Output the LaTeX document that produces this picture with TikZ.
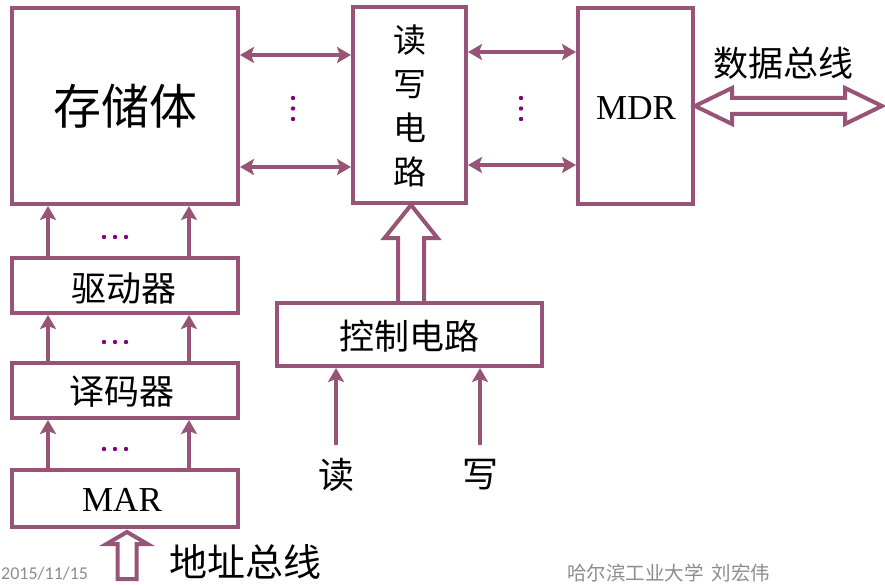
\documentclass[tikz,border=0pt]{standalone}
\usepackage{fontspec}
\setmainfont{Liberation Serif}
\newfontfamily\cjk{Noto Sans CJK SC}
\newfontfamily\footfont{Carlito}
\usetikzlibrary{arrows.meta,calc}
\definecolor{pc}{RGB}{152,84,118}
\definecolor{dotc}{RGB}{128,0,128}
\definecolor{footc}{RGB}{140,140,140}
\tikzset{
  box/.style={draw=pc, line width=4pt, fill=white, inner sep=0pt},
  arr/.style={draw=pc, line width=4pt, -{Stealth[length=14pt,width=16pt,inset=3pt]}},
  darr/.style={draw=pc, line width=4pt, {Stealth[length=14pt,width=16pt,inset=3pt]}-{Stealth[length=14pt,width=16pt,inset=3pt]}},
  hollow/.style={draw=pc, line width=4pt, line join=miter},
  cjkt/.style={font=\cjk\fontsize{35}{44}\selectfont, inner sep=0pt},
  rmt/.style={font=\fontsize{35}{40}\selectfont, inner sep=0pt},
  pdot/.style={fill=dotc, draw=none},
}
\begin{document}
\begin{tikzpicture}[x=1pt,y=-1pt]
\useasboundingbox (0,0) rectangle (885,585);
% boxes
\node[box, minimum width=226, minimum height=196] (store) at (125,106) {};
\node[cjkt, font=\cjk\fontsize{48}{50}\selectfont] (storet) at (125,106) {存储体};
\node[box, minimum width=113, minimum height=196] (rw) at (409.5,105) {};
\node[cjkt, font=\cjk\fontsize{33}{44}\selectfont, align=center] (rwt) at (409.5,106) {读\\写\\电\\路};
\node[box, minimum width=115, minimum height=196] (mdr) at (635.5,106) {};
\node[rmt] (mdrt) at (636,108) {MDR};
\node[box, minimum width=226, minimum height=55] (drv) at (125,285.5) {};
\node[cjkt] (drvt) at (124,288) {驱动器};
\node[box, minimum width=226, minimum height=55] (dec) at (125,390.5) {};
\node[cjkt] (dect) at (122,392) {译码器};
\node[box, minimum width=226, minimum height=57] (mar) at (125,498.5) {};
\node[rmt] (mart) at (122,500) {MAR};
\node[box, minimum width=265, minimum height=63] (ctl) at (409.5,334.5) {};
\node[cjkt] (ctlt) at (409,336) {控制电路};
% store <-> rw
\draw[darr] (store.east |- 0,55) -- (rw.west |- 0,55);
\draw[darr] (store.east |- 0,167) -- (rw.west |- 0,167);
\draw[darr] (rw.east |- 0,52) -- (mdr.west |- 0,52);
\draw[darr] (rw.east |- 0,165) -- (mdr.west |- 0,165);
% vertical dots
\foreach \yy in {98,108.5,119}{
  \fill[pdot] (293,\yy) circle (2.2);
  \fill[pdot] (521,\yy) circle (2.2);
}
% left column arrows
\foreach \xx in {48,189}{
  \draw[arr] (drv.north -| \xx,0) -- (store.south -| \xx,0);
  \draw[arr] (dec.north -| \xx,0) -- (drv.south -| \xx,0);
  \draw[arr] (mar.north -| \xx,0) -- (dec.south -| \xx,0);
}
\foreach \yy in {237,342,449}{
  \foreach \xx in {104,115,126}{
    \fill[pdot] (\xx,\yy) circle (2.2);
  }
}
% data bus
\coordinate (db) at (mdr.east);
\draw[hollow] (db) -- ++(37,-18) -- ++(0,10) -- ++(113,0) -- ++(0,-10) -- ++(37,18) -- ++(-37,18) -- ++(0,-10) -- ++(-113,0) -- ++(0,10) -- cycle;
\node[cjkt] (dbt) at (783,63) {数据总线};
% address bus
\coordinate (ab) at ($(mar.south)+(2,3)$);
\draw[hollow] (ab) -- ++(20.5,12) -- ++(-11,0) -- ++(0,35) -- ++(-19,0) -- ++(0,-35) -- ++(-11,0) -- cycle;
\node[cjkt, font=\cjk\fontsize{38}{40}\selectfont] (abt) at (245,562) {地址总线};
% control -> rw
\coordinate (cb) at ($(ctl.north)+(1.5,0)$);
\draw[hollow] ($(cb)+(-13,0)$) -- ++(0,-63) -- ++(-13.5,0) -- ++(26.5,-33) -- ++(26.5,33) -- ++(-13.5,0) -- ++(0,63);
% read / write
\coordinate (rin) at (336,445);
\coordinate (win) at (480,445);
\draw[arr] (rin) -- (ctl.south -| rin);
\draw[arr] (win) -- (ctl.south -| win);
\node[cjkt, font=\cjk\fontsize{36}{40}\selectfont] (rt) at (336,475) {读};
\node[cjkt, font=\cjk\fontsize{36}{40}\selectfont] (wt) at (480,475) {写};
% footer
\node[font=\footfont\fontsize{18}{20}\selectfont, text=footc, anchor=west, inner sep=0pt] (date) at (1,574) {2015/11/15};
\node[font=\cjk\fontsize{19.5}{20}\selectfont, text=footc, anchor=west, inner sep=0pt] (auth) at (567,573) {哈尔滨工业大学\hspace{8pt}刘宏伟};
\end{tikzpicture}
\end{document}
